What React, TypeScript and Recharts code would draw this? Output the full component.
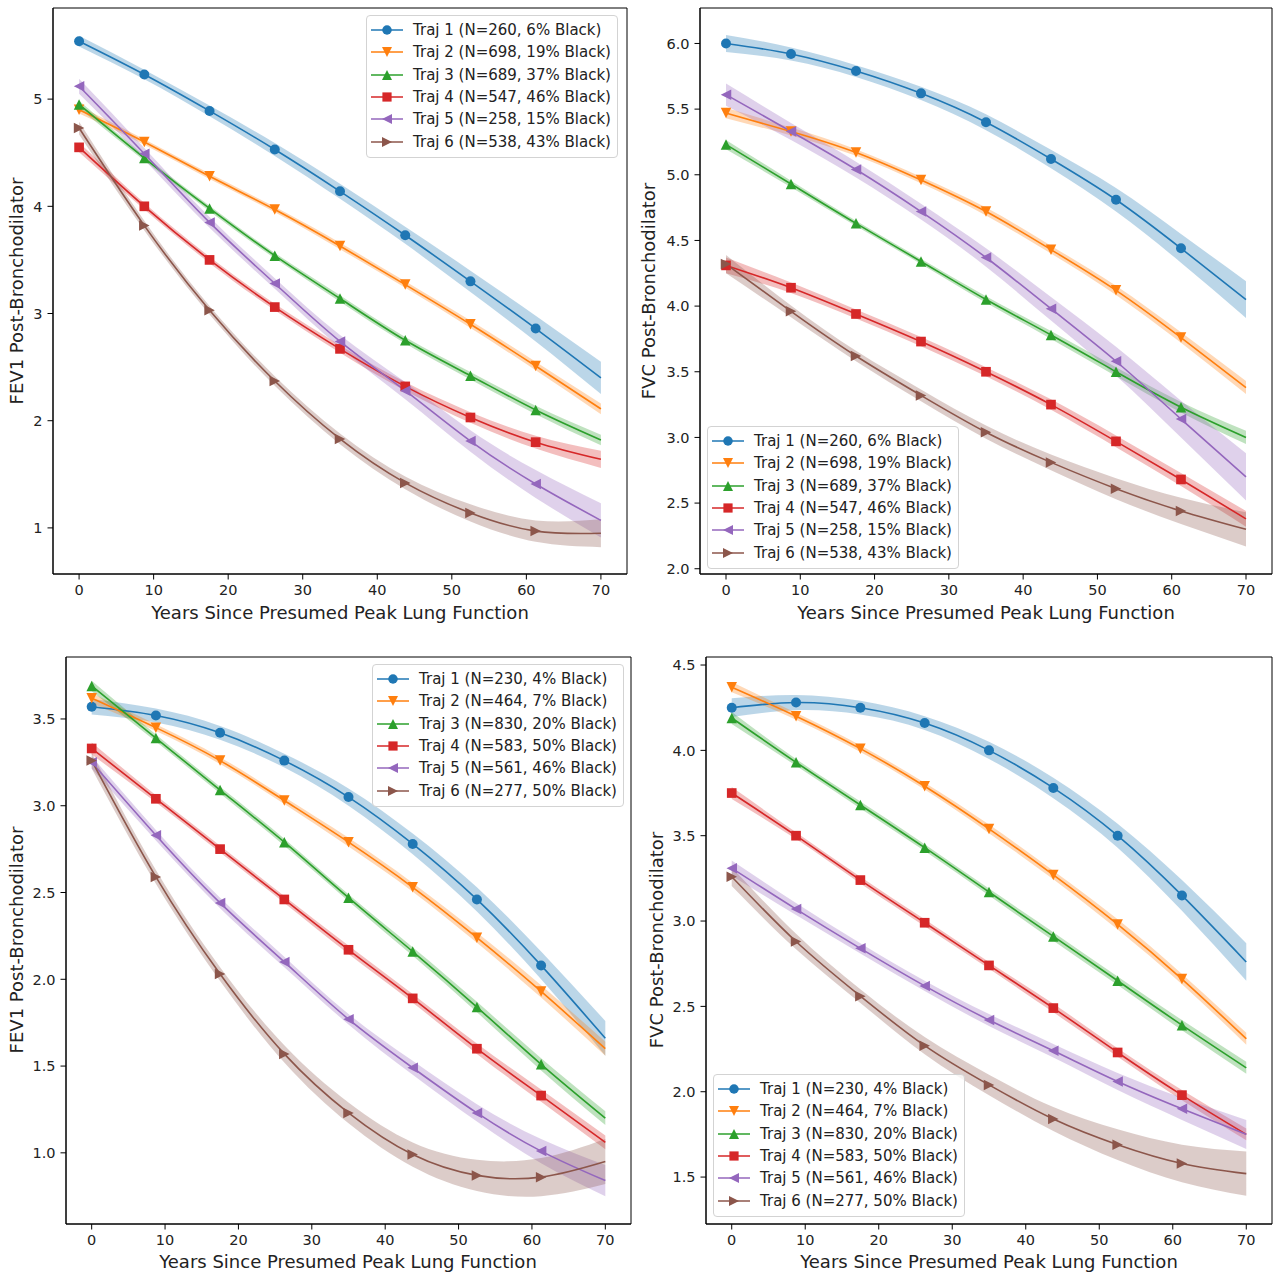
import React from 'react';
import { ComposedChart, Line, Area, XAxis, YAxis, Legend, ReferenceArea } from 'recharts';

const FONT = '"DejaVu Sans", sans-serif';
const COLORS = ['#1f77b4', '#ff7f0e', '#2ca02c', '#d62728', '#9467bd', '#8c564b'];
const SHAPES = ['circle', 'down', 'up', 'square', 'left', 'right'];

const years = [0, 8.75, 17.5, 26.25, 35, 43.75, 52.5, 61.25, 70];
const xTicks = [0, 10, 20, 30, 40, 50, 60, 70];

const topLabels = [
  'Traj 1 (N=260, 6% Black)',
  'Traj 2 (N=698, 19% Black)',
  'Traj 3 (N=689, 37% Black)',
  'Traj 4 (N=547, 46% Black)',
  'Traj 5 (N=258, 15% Black)',
  'Traj 6 (N=538, 43% Black)',
];
const bottomLabels = [
  'Traj 1 (N=230, 4% Black)',
  'Traj 2 (N=464, 7% Black)',
  'Traj 3 (N=830, 20% Black)',
  'Traj 4 (N=583, 50% Black)',
  'Traj 5 (N=561, 46% Black)',
  'Traj 6 (N=277, 50% Black)',
];

// Panel A: FEV1 (top-left)
const fevA1 = [5.54, 5.23, 4.89, 4.53, 4.14, 3.73, 3.30, 2.86, 2.40];
const fevA2 = [4.90, 4.60, 4.28, 3.97, 3.63, 3.27, 2.90, 2.51, 2.11];
const fevA3 = [4.95, 4.45, 3.98, 3.54, 3.14, 2.75, 2.42, 2.10, 1.82];
const fevA4 = [4.55, 4.00, 3.50, 3.06, 2.67, 2.32, 2.03, 1.80, 1.64];
const fevA5 = [5.12, 4.49, 3.85, 3.28, 2.74, 2.28, 1.81, 1.41, 1.07];
const fevA6 = [4.73, 3.82, 3.03, 2.37, 1.83, 1.42, 1.14, 0.97, 0.95];
const fevABand1 = [0.05, 0.045, 0.05, 0.06, 0.07, 0.08, 0.10, 0.12, 0.15];
const fevABand2 = [0.035, 0.025, 0.025, 0.025, 0.03, 0.03, 0.035, 0.04, 0.05];
const fevABand3 = [0.035, 0.025, 0.025, 0.025, 0.03, 0.03, 0.035, 0.04, 0.05];
const fevABand4 = [0.045, 0.03, 0.03, 0.03, 0.035, 0.04, 0.05, 0.06, 0.08];
const fevABand5 = [0.07, 0.055, 0.05, 0.05, 0.06, 0.08, 0.10, 0.13, 0.16];
const fevABand6 = [0.06, 0.045, 0.04, 0.045, 0.05, 0.06, 0.08, 0.10, 0.13];

// Panel B: FVC (top-right)
const fvcB1 = [6.00, 5.92, 5.79, 5.62, 5.40, 5.12, 4.81, 4.44, 4.05];
const fvcB2 = [5.47, 5.33, 5.17, 4.96, 4.72, 4.43, 4.12, 3.76, 3.38];
const fvcB3 = [5.23, 4.93, 4.63, 4.34, 4.05, 3.78, 3.50, 3.23, 3.00];
const fvcB4 = [4.31, 4.14, 3.94, 3.73, 3.50, 3.25, 2.97, 2.68, 2.38];
const fvcB5 = [5.61, 5.33, 5.04, 4.72, 4.37, 3.98, 3.58, 3.14, 2.70];
const fvcB6 = [4.32, 3.96, 3.62, 3.32, 3.04, 2.81, 2.61, 2.44, 2.30];
const fvcBBand1 = [0.065, 0.05, 0.045, 0.05, 0.06, 0.07, 0.09, 0.11, 0.14];
const fvcBBand2 = [0.04, 0.03, 0.025, 0.025, 0.03, 0.03, 0.035, 0.04, 0.05];
const fvcBBand3 = [0.035, 0.025, 0.02, 0.02, 0.025, 0.03, 0.035, 0.04, 0.05];
const fvcBBand4 = [0.06, 0.04, 0.035, 0.035, 0.035, 0.04, 0.045, 0.05, 0.06];
const fvcBBand5 = [0.085, 0.065, 0.06, 0.06, 0.07, 0.09, 0.11, 0.14, 0.18];
const fvcBBand6 = [0.07, 0.045, 0.04, 0.045, 0.05, 0.06, 0.08, 0.10, 0.13];

// Panel C: FEV1 (bottom-left)
const fevC1 = [3.57, 3.52, 3.42, 3.26, 3.05, 2.78, 2.46, 2.08, 1.66];
const fevC2 = [3.62, 3.45, 3.26, 3.03, 2.79, 2.53, 2.24, 1.93, 1.60];
const fevC3 = [3.69, 3.39, 3.09, 2.79, 2.47, 2.16, 1.84, 1.51, 1.20];
const fevC4 = [3.33, 3.04, 2.75, 2.46, 2.17, 1.89, 1.60, 1.33, 1.06];
const fevC5 = [3.25, 2.83, 2.44, 2.10, 1.77, 1.49, 1.23, 1.01, 0.84];
const fevC6 = [3.26, 2.59, 2.03, 1.57, 1.23, 0.99, 0.87, 0.86, 0.95];
const fevCBand1 = [0.045, 0.04, 0.04, 0.04, 0.05, 0.06, 0.07, 0.08, 0.10];
const fevCBand2 = [0.03, 0.02, 0.02, 0.02, 0.025, 0.025, 0.03, 0.035, 0.04];
const fevCBand3 = [0.03, 0.02, 0.02, 0.02, 0.02, 0.025, 0.03, 0.035, 0.04];
const fevCBand4 = [0.035, 0.02, 0.02, 0.02, 0.025, 0.025, 0.03, 0.035, 0.04];
const fevCBand5 = [0.035, 0.03, 0.03, 0.03, 0.03, 0.04, 0.05, 0.07, 0.09];
const fevCBand6 = [0.045, 0.04, 0.04, 0.05, 0.06, 0.07, 0.09, 0.11, 0.13];

// Panel D: FVC (bottom-right)
const fvcD1 = [4.25, 4.28, 4.25, 4.16, 4.00, 3.78, 3.50, 3.15, 2.76];
const fvcD2 = [4.37, 4.20, 4.01, 3.79, 3.54, 3.27, 2.98, 2.66, 2.31];
const fvcD3 = [4.19, 3.93, 3.68, 3.43, 3.17, 2.91, 2.65, 2.39, 2.14];
const fvcD4 = [3.75, 3.50, 3.24, 2.99, 2.74, 2.49, 2.23, 1.98, 1.75];
const fvcD5 = [3.31, 3.07, 2.84, 2.62, 2.42, 2.24, 2.06, 1.90, 1.75];
const fvcD6 = [3.26, 2.88, 2.56, 2.27, 2.04, 1.84, 1.69, 1.58, 1.52];
const fvcDBand1 = [0.055, 0.045, 0.04, 0.04, 0.05, 0.06, 0.07, 0.09, 0.11];
const fvcDBand2 = [0.03, 0.02, 0.02, 0.02, 0.025, 0.025, 0.03, 0.03, 0.035];
const fvcDBand3 = [0.035, 0.02, 0.02, 0.02, 0.02, 0.025, 0.025, 0.03, 0.035];
const fvcDBand4 = [0.035, 0.02, 0.02, 0.02, 0.02, 0.025, 0.025, 0.03, 0.035];
const fvcDBand5 = [0.045, 0.035, 0.03, 0.03, 0.035, 0.04, 0.05, 0.065, 0.085];
const fvcDBand6 = [0.055, 0.045, 0.04, 0.05, 0.06, 0.07, 0.09, 0.11, 0.13];

const ticksA = [1, 2, 3, 4, 5];
const ticksB = [2.0, 2.5, 3.0, 3.5, 4.0, 4.5, 5.0, 5.5, 6.0];
const ticksC = [1.0, 1.5, 2.0, 2.5, 3.0, 3.5];
const ticksD = [1.5, 2.0, 2.5, 3.0, 3.5, 4.0, 4.5];

function MarkerShape({ cx, cy, shape, color, s = 10.5 }: any) {
  const h = s / 2;
  if (cx == null || cy == null) return <g />;
  switch (shape) {
    case 'circle':
      return <circle cx={cx} cy={cy} r={h * 0.95} fill={color} />;
    case 'square':
      return <rect x={cx - h * 0.92} y={cy - h * 0.92} width={s * 0.92} height={s * 0.92} fill={color} />;
    case 'down':
      return <polygon points={`${cx - h},${cy - h} ${cx + h},${cy - h} ${cx},${cy + h}`} fill={color} />;
    case 'up':
      return <polygon points={`${cx - h},${cy + h} ${cx + h},${cy + h} ${cx},${cy - h}`} fill={color} />;
    case 'left':
      return <polygon points={`${cx + h},${cy - h} ${cx + h},${cy + h} ${cx - h},${cy}`} fill={color} />;
    case 'right':
      return <polygon points={`${cx - h},${cy - h} ${cx - h},${cy + h} ${cx + h},${cy}`} fill={color} />;
    default:
      return <g />;
  }
}

function buildRows(means: number[][], bands: number[][]) {
  return years.map((x, i) => {
    const row: any = { x };
    means.forEach((m, k) => {
      row['m' + k] = m[i];
      row['b' + k] = [m[i] - bands[k][i], m[i] + bands[k][i]];
    });
    return row;
  });
}

const makeLegend = (labels: string[]) => (props: any) => {
  const payload = (props.payload || []).filter((p: any) => String(p.dataKey).startsWith('m'));
  const items = payload.length ? payload : labels.map((l, k) => ({ value: l, dataKey: 'm' + k }));
  return (
    <div
      style={{
        background: 'rgba(255,255,255,0.8)',
        border: '1px solid #d3d3d3',
        borderRadius: 4,
        padding: '3px 6px 4px 4px',
        fontFamily: FONT,
        fontSize: 15,
        color: '#222',
        whiteSpace: 'nowrap',
      }}
    >
      {items.map((it: any) => {
        const k = parseInt(String(it.dataKey).slice(1), 10);
        return (
          <div key={k} style={{ display: 'flex', alignItems: 'center', height: 22.3 }}>
            <svg width={32} height={14} style={{ marginRight: 10, flex: 'none' }}>
              <line x1={0} x2={32} y1={7} y2={7} stroke={COLORS[k]} strokeWidth={1.5} />
              <MarkerShape cx={16} cy={7} shape={SHAPES[k]} color={COLORS[k]} s={10} />
            </svg>
            <span>{labels[k]}</span>
          </div>
        );
      })}
    </div>
  );
};

const XTick = (p: any) => (
  <text x={p.x} y={p.y} dy="0.72em" textAnchor="middle" fill="#222" fontSize={14.5} fontFamily={FONT}>
    {p.payload.value}
  </text>
);
const makeYTick = (fmt: (v: number) => string) => (p: any) => (
  <text x={p.x} y={p.y} dy="0.36em" textAnchor="end" fill="#222" fontSize={14.5} fontFamily={FONT}>
    {fmt(p.payload.value)}
  </text>
);

function Panel({ left, top, width, height, margin, yDomain, yTicks, yFmt, means, bands, labels, legendPos }: any) {
  const rows = buildRows(means, bands);
  return (
    <div style={{ position: 'absolute', left, top, width, height }}>
      <ComposedChart width={width} height={height} data={rows} margin={margin}>
        <XAxis
          type="number"
          dataKey="x"
          domain={[-3.5, 73.5]}
          ticks={xTicks}
          interval={0}
          allowDataOverflow
          height={30}
          tickSize={5.5}
          tickMargin={5}
          tick={XTick}
          axisLine={{ stroke: '#000' }}
          tickLine={{ stroke: '#000' }}
        />
        <YAxis
          type="number"
          domain={yDomain}
          ticks={yTicks}
          interval={0}
          allowDataOverflow
          width={30}
          tickSize={5.5}
          tickMargin={5}
          tick={makeYTick(yFmt)}
          axisLine={{ stroke: '#000' }}
          tickLine={{ stroke: '#000' }}
        />
        {means.map((_: any, k: number) => (
          <Area
            key={'a' + k}
            dataKey={'b' + k}
            type="natural"
            stroke="none"
            fill={COLORS[k]}
            fillOpacity={0.3}
            legendType="none"
            activeDot={false}
            dot={false}
            isAnimationActive={false}
          />
        ))}
        {means.map((_: any, k: number) => (
          <Line
            key={'l' + k}
            dataKey={'m' + k}
            name={labels[k]}
            type="natural"
            stroke={COLORS[k]}
            strokeWidth={1.6}
            activeDot={false}
            isAnimationActive={false}
            dot={(p: any) =>
              p.index === years.length - 1 ? (
                <g key={`d${k}-${p.index}`} />
              ) : (
                <MarkerShape key={`d${k}-${p.index}`} cx={p.cx} cy={p.cy} shape={SHAPES[k]} color={COLORS[k]} />
              )
            }
          />
        ))}
        <ReferenceArea
          x1={-3.5}
          x2={73.5}
          y1={yDomain[0]}
          y2={yDomain[1]}
          fill="none"
          fillOpacity={0}
          stroke="#000"
          strokeWidth={1}
          ifOverflow="visible"
        />
        <Legend
          layout="vertical"
          align="center"
          verticalAlign="middle"
          content={makeLegend(labels)}
          wrapperStyle={{ left: legendPos[0], top: legendPos[1], width: 'auto', height: 'auto' }}
        />
      </ComposedChart>
    </div>
  );
}

const f0 = (v: number) => String(v);
const f1 = (v: number) => v.toFixed(1);

export default function App() {
  const xLabel = 'Years Since Presumed Peak Lung Function';
  return (
    <div style={{ position: 'absolute', left: 0, top: 0, width: 1280, height: 1273, background: '#fff', overflow: 'hidden' }}>
      <Panel
        left={0}
        top={0}
        width={640}
        height={636}
        margin={{ top: 8, right: 13, bottom: 32, left: 23 }}
        yDomain={[0.57, 5.85]}
        yTicks={ticksA}
        yFmt={f0}
        means={[fevA1, fevA2, fevA3, fevA4, fevA5, fevA6]}
        bands={[fevABand1, fevABand2, fevABand3, fevABand4, fevABand5, fevABand6]}
        labels={topLabels}
        legendPos={[366, 15]}
      />
      <Panel
        left={640}
        top={0}
        width={640}
        height={636}
        margin={{ top: 8, right: 8, bottom: 32, left: 30 }}
        yDomain={[1.96, 6.27]}
        yTicks={ticksB}
        yFmt={f1}
        means={[fvcB1, fvcB2, fvcB3, fvcB4, fvcB5, fvcB6]}
        bands={[fvcBBand1, fvcBBand2, fvcBBand3, fvcBBand4, fvcBBand5, fvcBBand6]}
        labels={topLabels}
        legendPos={[67, 426]}
      />
      <Panel
        left={0}
        top={636}
        width={640}
        height={637}
        margin={{ top: 21, right: 9, bottom: 19, left: 36 }}
        yDomain={[0.59, 3.857]}
        yTicks={ticksC}
        yFmt={f1}
        means={[fevC1, fevC2, fevC3, fevC4, fevC5, fevC6]}
        bands={[fevCBand1, fevCBand2, fevCBand3, fevCBand4, fevCBand5, fevCBand6]}
        labels={bottomLabels}
        legendPos={[372, 28]}
      />
      <Panel
        left={640}
        top={636}
        width={640}
        height={637}
        margin={{ top: 21, right: 8, bottom: 19, left: 36 }}
        yDomain={[1.225, 4.547]}
        yTicks={ticksD}
        yFmt={f1}
        means={[fvcD1, fvcD2, fvcD3, fvcD4, fvcD5, fvcD6]}
        bands={[fvcDBand1, fvcDBand2, fvcDBand3, fvcDBand4, fvcDBand5, fvcDBand6]}
        labels={bottomLabels}
        legendPos={[73, 438]}
      />
      <svg
        width={1280}
        height={1273}
        style={{ position: 'absolute', left: 0, top: 0, pointerEvents: 'none' }}
        fontFamily={FONT}
        fontSize={18}
        fill="#222"
      >
        <text x={340} y={619} textAnchor="middle">{xLabel}</text>
        <text x={986} y={619} textAnchor="middle">{xLabel}</text>
        <text x={348} y={1268} textAnchor="middle">{xLabel}</text>
        <text x={989} y={1268} textAnchor="middle">{xLabel}</text>
        <text x={16} y={291} textAnchor="middle" dominantBaseline="central" transform="rotate(-90 16 291)">FEV1 Post-Bronchodilator</text>
        <text x={648} y={291} textAnchor="middle" dominantBaseline="central" transform="rotate(-90 648 291)">FVC Post-Bronchodilator</text>
        <text x={16} y={940} textAnchor="middle" dominantBaseline="central" transform="rotate(-90 16 940)">FEV1 Post-Bronchodilator</text>
        <text x={656} y={940} textAnchor="middle" dominantBaseline="central" transform="rotate(-90 656 940)">FVC Post-Bronchodilator</text>
      </svg>
    </div>
  );
}
